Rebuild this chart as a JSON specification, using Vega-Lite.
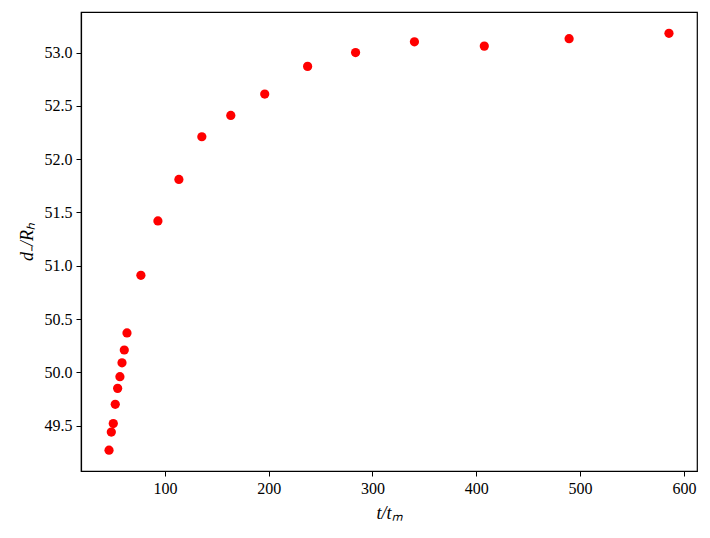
{
  "$schema": "https://vega.github.io/schema/vega-lite/v6.json",
  "autosize": {"type": "none"},
  "padding": {"left": 81, "top": 12, "right": 13, "bottom": 67},
  "width": 616,
  "height": 459,
  "background": "white",
  "config": {
    "view": {"stroke": "black", "strokeWidth": 1.2},
    "font": "Liberation Serif",
    "axis": {
      "domainColor": "black",
      "domainWidth": 1.2,
      "tickColor": "black",
      "tickSize": 5,
      "tickWidth": 1,
      "grid": false,
      "labelColor": "black",
      "titleColor": "black"
    }
  },
  "data": {
    "values": [
      {"t": 46.2, "d": 49.27},
      {"t": 48.4, "d": 49.44},
      {"t": 50.3, "d": 49.52},
      {"t": 52.2, "d": 49.70},
      {"t": 54.5, "d": 49.85},
      {"t": 56.7, "d": 49.96},
      {"t": 58.7, "d": 50.09},
      {"t": 60.9, "d": 50.21},
      {"t": 63.5, "d": 50.37},
      {"t": 76.9, "d": 50.91},
      {"t": 93.3, "d": 51.42},
      {"t": 113.5, "d": 51.81},
      {"t": 135.6, "d": 52.21},
      {"t": 163.5, "d": 52.41},
      {"t": 196.2, "d": 52.61},
      {"t": 237.5, "d": 52.87},
      {"t": 283.7, "d": 53.00},
      {"t": 340.4, "d": 53.10},
      {"t": 407.7, "d": 53.06},
      {"t": 489.4, "d": 53.13},
      {"t": 585.6, "d": 53.18}
    ]
  },
  "mark": {"type": "circle", "color": "#ff0000", "opacity": 1, "size": 85},
  "encoding": {
    "x": {
      "field": "t",
      "type": "quantitative",
      "scale": {"domain": [19.2, 612.6], "nice": false, "zero": false},
      "axis": {"values": [100, 200, 300, 400, 500, 600], "format": "d", "title": "t/tₘ", "titlePadding": 8, "labelPadding": 4,
        "labelFont": "Liberation Serif", "labelFontSize": 16, "titleFont": "Liberation Serif", "titleFontStyle": "italic", "titleFontWeight": "normal", "titleFontSize": 18}
    },
    "y": {
      "field": "d",
      "type": "quantitative",
      "scale": {"domain": [49.075, 53.38], "nice": false, "zero": false},
      "axis": {"values": [49.5, 50.0, 50.5, 51.0, 51.5, 52.0, 52.5, 53.0], "format": ".1f", "title": "d₋/Rₕ", "titlePadding": 8, "labelPadding": 4,
        "labelFont": "Liberation Serif", "labelFontSize": 16, "titleFont": "Liberation Serif", "titleFontStyle": "italic", "titleFontWeight": "normal", "titleFontSize": 18}
    }
  }
}
